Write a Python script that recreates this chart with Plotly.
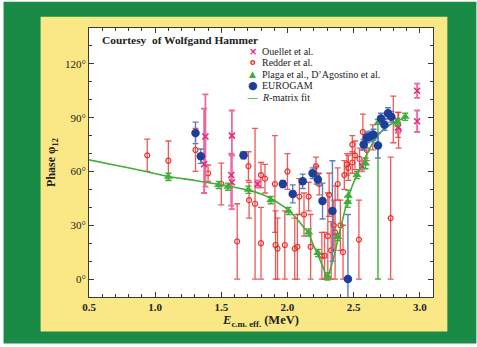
import plotly.graph_objects as go

# ---------------- data ----------------
fit_x = [0.5, 0.7, 0.93, 1.1, 1.3, 1.5, 1.7, 1.8, 1.87, 1.95, 2.01, 2.06, 2.10, 2.13,
         2.16, 2.19, 2.22, 2.25, 2.28, 2.30, 2.33, 2.36, 2.38, 2.41, 2.45, 2.49, 2.53,
         2.57, 2.61, 2.65, 2.70, 2.75, 2.80, 2.85, 2.89]
fit_y = [66.5, 63.5, 60.0, 57.2, 55.0, 52.6, 49.6, 47.5, 45.2, 41.5, 38.3, 34.5, 31.0, 28.2,
         25.5, 20.0, 15.0, 10.0, 4.5, 0.5, 7.0, 15.0, 22.0, 31.0, 43.0, 52.0, 58.8,
         65.0, 71.0, 76.5, 81.5, 84.8, 87.2, 88.8, 90.0]

redder_x = [0.94, 1.10, 1.305, 1.40, 1.50, 1.62, 1.705, 1.71, 1.755, 1.80, 1.80, 1.83,
            1.905, 1.91, 1.925, 1.98, 2.00, 2.055, 2.075, 2.09, 2.125, 2.16, 2.175,
            2.215, 2.22, 2.24, 2.26, 2.28, 2.305, 2.315, 2.33, 2.35, 2.36, 2.38, 2.40,
            2.42, 2.43, 2.45, 2.46, 2.49, 2.49, 2.51, 2.54, 2.545, 2.57, 2.60, 2.645,
            2.78, 2.80, 2.84, 2.835]
redder_y = [69, 66, 72, 59, 53, 21, 63, 44, 42, 20, 58, 56,
            53, 19, 17, 19, 60, 17, 18, 46, 36, 46, 18,
            63, 58, 53, 13, 13, 24, 47, 16, 30, 26, 53, 30,
            15, 58, 64, 62, 75, 65, 69, 22, 67, 82, 72, 79,
            34, 89, 83, 86]
redder_err = [9, 11, 12, 4.6, 11.6, 21, 8, 10, 42, 20, 7, 8,
              27, 19, 17, 19, 10, 17, 18, 10, 12, 8, 18,
              5, 5, 6, 13, 13, 24, 12, 16, 14, 26, 9, 14,
              15, 8, 6, 7, 5, 6, 8, 22, 6, 10, 6, 7,
              34, 13, 10, 7]

ouellet_x = [1.38, 1.37, 1.58, 1.575, 1.58, 1.775, 2.565, 2.835, 2.98, 2.98]
ouellet_y = [79.5, 64, 80, 58, 54, 53, 63, 84.5, 105, 88]
ouellet_ep = [23.5, 31, 14, 12, 15, 2, 3, 3, 4, 6]
ouellet_em = [28, 16, 11, 17, 15, 2, 3, 3, 4, 6]

plaga_x = [1.10, 1.48, 1.55, 1.705, 1.874, 2.008, 2.16, 2.23, 2.303, 2.38, 2.455,
           2.46, 2.525, 2.59, 2.684, 2.83, 2.89]
plaga_y = [57, 52.5, 51.5, 49.8, 44, 38, 26, 14.5, 1.5, 23.5, 43,
           46.5, 58, 64.5, 87, 87.5, 90.5]
plaga_ep = [2, 2, 2, 2, 2, 2, 2, 2, 2, 2, 3, 3, 2, 3, 2, 2, 2]
plaga_em = [2, 2, 2, 2, 2, 2, 2, 2, 2, 2, 3, 3, 2, 3, 87, 2, 2]

euro_x = [1.305, 1.345, 1.668, 1.965, 2.04, 2.115, 2.19, 2.23, 2.265, 2.34, 2.457,
          2.576, 2.60, 2.625, 2.65, 2.684, 2.707, 2.733, 2.76, 2.785]
euro_y = [81.5, 68.5, 69, 53, 47.5, 54.5, 59, 55.5, 43.5, 38, 0,
          75, 79, 79.5, 80.5, 74.5, 89.5, 86, 92.5, 90.5]
euro_err = [6, 4, 2, 2, 5, 4, 3, 3, 10, 28, 36,
            3, 3, 3, 3, 7, 3, 3, 3, 3]

y_ticks = [0, 30, 60, 90, 120]
y_ticklabels = ["0°", "30°", "60°", "90°", "120°"]

legend_labels = ["Ouellet et al.", "Redder et al.", "Plaga et al., D’Agostino et al.",
                 "EUROGAM", "<i>R</i>-matrix fit"]

# ---------------- style ----------------
C_PINK = "#e3277c"
C_PINK_BAR = "#ea6aa0"
C_RED = "#e8322e"
C_RED_BAR = "rgba(235,60,60,0.85)"
C_GREEN = "#3fae3a"
C_BLUE = "#1c3f98"
C_BLUE_BAR = "#5d7fbf"
SERIF = "Liberation Serif"
TXT = "#222222"

fig = go.Figure()

fig.add_trace(go.Scatter(
    x=redder_x, y=redder_y, mode="markers", name="Redder et al.",
    marker=dict(symbol="circle-open", size=5, color=C_RED, line=dict(width=1.2, color=C_RED)),
    error_y=dict(type="data", array=redder_err, color=C_RED_BAR, thickness=1.3, width=3),
))
fig.add_trace(go.Scatter(
    x=ouellet_x, y=ouellet_y, mode="markers", name="Ouellet et al.",
    marker=dict(symbol="x-thin-open", size=6, color=C_PINK, line=dict(width=1.6, color=C_PINK)),
    error_y=dict(type="data", symmetric=False, array=ouellet_ep, arrayminus=ouellet_em,
                 color=C_PINK_BAR, thickness=1.8, width=3),
))
fig.add_trace(go.Scatter(
    x=fit_x, y=fit_y, mode="lines", name="R-matrix fit",
    line=dict(color=C_GREEN, width=1.6, shape="spline", smoothing=0.6),
))
fig.add_trace(go.Scatter(
    x=plaga_x, y=plaga_y, mode="markers", name="Plaga et al., D'Agostino et al.",
    marker=dict(symbol="triangle-up", size=8, color=C_GREEN),
    error_y=dict(type="data", symmetric=False, array=plaga_ep, arrayminus=plaga_em,
                 color=C_GREEN, thickness=1.4, width=3),
))
fig.add_trace(go.Scatter(
    x=euro_x, y=euro_y, mode="markers", name="EUROGAM",
    marker=dict(symbol="circle", size=8.5, color=C_BLUE),
    error_y=dict(type="data", array=euro_err, color=C_BLUE_BAR, thickness=1.4, width=3),
))

# background panels (green frame, yellow panel, white plot area)
fig.add_shape(type="rect", xref="paper", yref="paper", x0=-0.2484, x1=1.1261, y0=-0.1725, y1=1.098,
              fillcolor="#1a8b46", line_width=0, layer="below")
fig.add_shape(type="rect", xref="paper", yref="paper", x0=-0.1407, x1=1.0417, y0=-0.1278, y1=1.042,
              fillcolor="#fae887", line_width=0, layer="below")
fig.add_shape(type="rect", xref="paper", yref="paper", x0=0, x1=1, y0=0, y1=1,
              fillcolor="white", line_width=0, layer="below")

# title annotation
fig.add_annotation(xref="paper", yref="paper", x=0.031, y=(296.7 - 40.5) / 268.4,
                   xanchor="left", yanchor="middle",
                   text="<b>Courtesy\u00a0 of Wolfgand Hammer</b>", showarrow=False,
                   font=dict(family=SERIF, size=11.4, color=TXT))

# legend built from annotations (compact spacing as in the reference)
glyphs = ["×", "o", "▲", "●", "—"]
glyph_colors = [C_PINK, C_RED, C_GREEN, C_BLUE, C_GREEN]
glyph_sizes = [10, 8, 9, 11, 11]
row_px = [51.4, 62.9, 74.4, 85.9, 97.4]
for g, gc, gs, lab, ry in zip(glyphs, glyph_colors, glyph_sizes, legend_labels, row_px):
    yp = (296.7 - ry) / 268.4
    fig.add_annotation(xref="paper", yref="paper", x=(253 - 89.3) / 343.4, y=yp,
                       xanchor="center", yanchor="middle", text=f"<b>{g}</b>" if g in "×o" else g,
                       showarrow=False, font=dict(family="DejaVu Sans", size=gs, color=gc))
    fig.add_annotation(xref="paper", yref="paper", x=(260.5 - 89.3) / 343.4, y=yp,
                       xanchor="left", yanchor="middle", text=lab, showarrow=False,
                       font=dict(family=SERIF, size=10, color=TXT))

axis_common = dict(showline=True, linecolor="#3a3a3a", linewidth=1, mirror="ticks",
                   ticks="inside", ticklen=5, tickcolor="#3a3a3a", tickwidth=1,
                   showgrid=False, zeroline=False)

fig.update_xaxes(
    range=[0.5, 3.1], tick0=0.5, dtick=0.5, tickformat=".1f",
    tickfont=dict(family=SERIF, size=11, color=TXT, weight="bold"),
    minor=dict(dtick=0.1, ticklen=3, ticks="inside", tickcolor="#3a3a3a", showgrid=False),
    title=dict(text="<b><i>E</i></b><b><sub>c.m. eff.</sub> (MeV)</b>",
               font=dict(family=SERIF, size=12.5, color=TXT), standoff=3),
    **axis_common,
)
fig.update_yaxes(
    range=[-10, 140], tickvals=y_ticks, ticktext=y_ticklabels,
    tickfont=dict(family=SERIF, size=11, color=TXT),
    minor=dict(dtick=10, ticklen=3, ticks="inside", tickcolor="#3a3a3a", showgrid=False),
    title=dict(text="<b>Phase φ<sub>12</sub></b>",
               font=dict(family=SERIF, size=12, color=TXT), standoff=6),
    **axis_common,
)

fig.update_layout(
    width=477, height=347,
    margin=dict(l=89, r=44, t=28, b=50, autoexpand=False),
    paper_bgcolor="white", plot_bgcolor="white",
    showlegend=False,
)

fig.write_html("out.html", config={"displayModeBar": False},
               post_script="document.body.style.margin='0px';document.body.style.padding='0px';")
